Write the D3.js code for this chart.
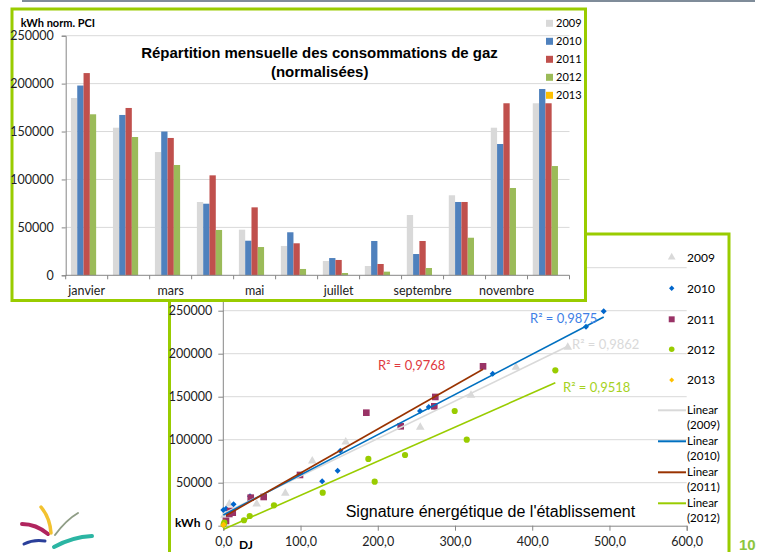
<!DOCTYPE html>
<html><head><meta charset="utf-8">
<script src="https://cdn.jsdelivr.net/npm/d3@7"></script>
<style>body{margin:0;background:#fff}svg{display:block}</style>
</head><body>
<svg id="c" width="760" height="552"></svg>
<script>
// ---------- DATA ----------
const months = ["janvier","février","mars","avril","mai","juin","juillet","août","septembre","octobre","novembre","décembre"];
const years = ["2009","2010","2011","2012","2013"];
const gaz2009 = [185000,154000,128600,76500,47600,30600,14900,9700,62900,83500,154000,179500];
const gaz2010 = [198000,167300,150000,74700,36100,44900,18000,35800,22200,76500,137000,194400];
const gaz2011 = [211000,174600,143300,104300,70900,33400,16000,11800,35800,76500,179500,179500];
const gaz2012 = [168000,144300,115100,47300,29500,6600,2400,3800,7600,39200,91100,114000];
const gaz2013 = [0,0,0,0,0,0,0,0,0,0,0,0];
const barTicks = [0,50000,100000,150000,200000,250000];

const dj2009 = [1.5,4,7.8,43.2,80.3,115.2,158.5,255,320.7,379,446];
const kwh2009 = [12000,15000,25200,25200,37700,75200,97300,114400,151600,184200,207500];
const dj2010 = [0,3.5,13.3,34.6,128,148,151.5,254.7,266,348.8,469.6,492.5];
const kwh2010 = [18300,19800,24900,34200,51600,64000,87200,133400,138000,176700,231400,249300];
const dj2011 = [3.5,7.8,9,12.2,35.5,52.3,99.3,185.2,229.7,274.5,273.2,336.3];
const kwh2011 = [5500,13600,17100,15100,32600,33400,59000,131400,115600,149700,138800,185300];
const dj2012 = [0.5,1.3,26.8,34.2,65.6,128.7,187.8,196,235.3,299.6,315.2,429.9];
const kwh2012 = [1500,3500,6300,11300,23700,38400,77600,51200,82200,133400,100000,180700];
const dj2013 = [0,0.5];
const kwh2013 = [500,1500];
const scatterYTicks = [0,50000,100000,150000,200000,250000];
const scatterGrid = [50000,100000,150000,200000,250000,300000];
const scatterXTicks = [0,100,200,300,400,500,600];
const r2Labels = ["R² = 0,9862","R² = 0,9875","R² = 0,9768","R² = 0,9518"];

// ---------- STYLE ----------
const GREEN = "#99cc00";
const barColors = {"2009":"#d9d9d9","2010":"#4f81bd","2011":"#c0504d","2012":"#9bbb59","2013":"#ffc000"};
const scatColors = {"2009":"#d9d9d9","2010":"#0066cc","2011":"#993366","2012":"#99cc00","2013":"#ffc000"};
const trendColors = {"2009":"#d9d9d9","2010":"#0070c0","2011":"#993300","2012":"#99cc00"};
const CAL = "Lato, 'Open Sans', sans-serif";
const ARI = "'Liberation Sans', Arial, sans-serif";

const svg = d3.select("#c");

// top slide line
svg.append("line").attr("x1",22).attr("x2",755).attr("y1",1).attr("y2",1)
  .attr("stroke","#7f8c99").attr("stroke-width",2);

// ================= SCATTER CHART =================
const sc = svg.append("g");
sc.append("rect").attr("x",169.5).attr("y",234).attr("width",559.5).attr("height",400)
  .attr("fill","#fff").attr("stroke",GREEN).attr("stroke-width",3);

const sx = d3.scaleLinear().domain([0,600]).range([223.3,686.7]);
const sy = d3.scaleLinear().domain([0,300000]).range([525.7,267.7]);

sc.append("g").selectAll("line").data(scatterGrid).join("line")
  .attr("x1",sx(0)).attr("x2",sx(600)).attr("y1",d=>sy(d)).attr("y2",d=>sy(d))
  .attr("stroke","#d9d9d9").attr("stroke-width",1);

const yAx = sc.append("g").attr("transform",`translate(${sx(0)},0)`)
  .call(d3.axisLeft(sy).tickValues(scatterYTicks).tickSize(5).tickPadding(6).tickFormat(d3.format("d")));
const xAx = sc.append("g").attr("transform",`translate(0,${sy(0)})`)
  .call(d3.axisBottom(sx).tickValues(scatterXTicks).tickSize(5).tickPadding(6)
    .tickFormat(d=>d3.format(".1f")(d).replace(".",",")));
[yAx,xAx].forEach(a=>{
  a.select(".domain").attr("stroke","#868686");
  a.selectAll(".tick line").attr("stroke","#868686");
  a.selectAll("text").attr("font-family",CAL).attr("font-size",12.5).attr("fill","#222");
});
yAx.select(".domain").attr("d",`M-0,${sy(0)}V${sy(300000)}`);

const series = [
  {y:"2009", xs:dj2009, ys:kwh2009, sym:d3.symbolTriangle, size:32, rot:0},
  {y:"2010", xs:dj2010, ys:kwh2010, sym:d3.symbolSquare, size:18, rot:45},
  {y:"2011", xs:dj2011, ys:kwh2011, sym:d3.symbolSquare, size:44, rot:0},
  {y:"2012", xs:dj2012, ys:kwh2012, sym:d3.symbolCircle, size:30, rot:0},
  {y:"2013", xs:dj2013, ys:kwh2013, sym:d3.symbolSquare, size:16, rot:45}
];

function regress(xs,ys){
  const n=xs.length, mx=d3.mean(xs), my=d3.mean(ys);
  let sxy=0,sxx=0; for(let i=0;i<n;i++){sxy+=(xs[i]-mx)*(ys[i]-my);sxx+=(xs[i]-mx)**2;}
  const b=sxy/sxx; return {a:my-b*mx,b};
}

// points
series.forEach(s=>{
  const pts = s.xs.map((x,i)=>[x,s.ys[i]]);
  sc.append("g").selectAll("path").data(pts).join("path")
    .attr("d",d3.symbol().type(s.sym).size(s.size))
    .attr("transform",d=>`translate(${sx(d[0])},${sy(d[1])}) rotate(${s.rot})`)
    .attr("fill",scatColors[s.y]);
});
// trendlines
series.filter(s=>trendColors[s.y]).forEach(s=>{
  const r = regress(s.xs,s.ys);
  const x0=d3.min(s.xs), x1=d3.max(s.xs);
  sc.append("line").attr("x1",sx(x0)).attr("x2",sx(x1))
    .attr("y1",sy(r.a+r.b*x0)).attr("y2",sy(r.a+r.b*x1))
    .attr("stroke",trendColors[s.y]).attr("stroke-width",1.6);
});

// R² labels
const r2Pos = [[572,344,"#d9d9d9"],[530,318,"#3f7fe6"],[378,365,"#e0393e"],[563,387,"#a6d21e"]];
r2Labels.forEach((t,i)=>{
  sc.append("text").attr("x",r2Pos[i][0]).attr("y",r2Pos[i][1]).attr("dy","0.35em")
    .attr("font-family",CAL).attr("font-size",13).attr("fill",r2Pos[i][2]).text(t);
});

sc.append("text").attr("x",345.7).attr("y",517).attr("font-family",ARI).attr("font-size",16)
  .attr("fill","#000").text("Signature énergétique de l'établissement");
sc.append("text").attr("x",175).attr("y",527).attr("font-family",CAL).attr("font-weight","bold")
  .attr("font-size",12).attr("fill","#000").text("kWh");
sc.append("text").attr("x",239).attr("y",549).attr("font-family",CAL).attr("font-weight","bold")
  .attr("font-size",12).attr("fill","#000").text("DJ");

// scatter legend
const legY = [257.3,288.3,319.3,349.3,380];
series.forEach((s,i)=>{
  sc.append("path").attr("d",d3.symbol().type(s.sym).size(s.size*0.8))
    .attr("transform",`translate(671.7,${legY[i]}) rotate(${s.rot})`).attr("fill",scatColors[s.y]);
  sc.append("text").attr("x",687).attr("y",legY[i]).attr("dy","0.35em")
    .attr("font-family",CAL).attr("font-size",12).attr("fill","#000").text(s.y);
});
const trendYears = ["2009","2010","2011","2012"];
const legY2 = [410.3,441.3,472.3,503.3];
trendYears.forEach((y,i)=>{
  sc.append("line").attr("x1",658).attr("x2",686).attr("y1",legY2[i]).attr("y2",legY2[i])
    .attr("stroke",trendColors[y]).attr("stroke-width",2);
  const t = sc.append("text").attr("x",687).attr("y",legY2[i]).attr("dy","0.35em")
    .attr("font-family",CAL).attr("font-size",11.5).attr("fill","#000");
  t.append("tspan").attr("x",687).text("Linear");
  t.append("tspan").attr("x",687).attr("dy",14.2).text(`(${y})`);
});

// ================= BAR CHART =================
const bc = svg.append("g");
bc.append("rect").attr("x",12).attr("y",9).attr("width",573.5).attr("height",291.5)
  .attr("fill","#fff").attr("stroke",GREEN).attr("stroke-width",3);

const bx0 = d3.scaleBand().domain(months).range([65.7,569.5]).padding(0);
const bx1 = d3.scaleBand().domain(years).range([0,bx0.bandwidth()]).paddingInner(0).paddingOuter(0.833);
const by = d3.scaleLinear().domain([0,250000]).range([275.3,35.7]);
const barData = {"2009":gaz2009,"2010":gaz2010,"2011":gaz2011,"2012":gaz2012,"2013":gaz2013};

bc.append("g").selectAll("line").data(barTicks.slice(1)).join("line")
  .attr("x1",bx0.range()[0]).attr("x2",bx0.range()[1]).attr("y1",d=>by(d)).attr("y2",d=>by(d))
  .attr("stroke","#d9d9d9");

years.forEach(y=>{
  bc.append("g").selectAll("rect").data(barData[y].map((v,i)=>({m:months[i],v})).filter(d=>d.v>0)).join("rect")
    .attr("x",d=>bx0(d.m)+bx1(y)).attr("width",bx1.bandwidth())
    .attr("y",d=>by(d.v)).attr("height",d=>by(0)-by(d.v)).attr("fill",barColors[y]);
});

const byAx = bc.append("g").attr("transform",`translate(${bx0.range()[0]},0)`)
  .call(d3.axisLeft(by).tickValues(barTicks).tickSize(4).tickPadding(8).tickFormat(d3.format("d")));
const bxAx = bc.append("g").attr("transform",`translate(0,${by(0)})`)
  .call(d3.axisBottom(bx0).tickSize(0).tickPadding(11).tickFormat((d,i)=>i%2===0?d:""));
[byAx,bxAx].forEach(a=>{
  a.select(".domain").attr("stroke","#868686");
  a.selectAll(".tick line").attr("stroke","#868686");
  a.selectAll("text").attr("font-family",CAL).attr("font-size",12.5).attr("fill","#222");
});
bxAx.select(".domain").attr("d",`M${bx0.range()[0]},0H${bx0.range()[1]}`);
bc.append("g").selectAll("line").data(months.concat(["_end"])).join("line")
  .attr("x1",d=>d==="_end"?bx0.range()[1]:bx0(d)).attr("x2",d=>d==="_end"?bx0.range()[1]:bx0(d))
  .attr("y1",by(0)).attr("y2",by(0)+4).attr("stroke","#868686");

bc.append("text").attr("x",20.7).attr("y",27).attr("font-family",CAL).attr("font-weight","bold")
  .attr("font-size",11).attr("fill","#000").text("kWh norm. PCI");
bc.append("text").attr("x",319.5).attr("y",57.5).attr("text-anchor","middle").attr("font-family",ARI)
  .attr("font-weight","bold").attr("font-size",15).attr("fill","#000").text("Répartition mensuelle des consommations de gaz");
bc.append("text").attr("x",319.7).attr("y",76.5).attr("text-anchor","middle").attr("font-family",ARI)
  .attr("font-weight","bold").attr("font-size",15).attr("fill","#000").text("(normalisées)");

years.forEach((y,i)=>{
  const cy = 23.3 + i*18;
  bc.append("rect").attr("x",546).attr("y",cy-3.5).attr("width",7).attr("height",7).attr("fill",barColors[y]);
  bc.append("text").attr("x",556).attr("y",cy).attr("dy","0.35em").attr("font-family",CAL)
    .attr("font-size",11).attr("fill","#000").text(y);
});

// ================= LOGO & PAGE NUMBER =================
const logo = svg.append("g").attr("fill","none").attr("stroke-linecap","round");
logo.append("path").attr("d","M22,524 Q36,524 48,534").attr("stroke","#b0245e").attr("stroke-width",4);
logo.append("path").attr("d","M41,507 Q50,518 51,533").attr("stroke","#f2c230").attr("stroke-width",3.5);
logo.append("path").attr("d","M55,535 Q66,520 78,513").attr("stroke","#8f9d86").attr("stroke-width",2);
logo.append("path").attr("d","M54,547 Q72,537 92,536").attr("stroke","#2bb5a3").attr("stroke-width",4);
logo.append("path").attr("d","M24,544 Q34,539 45,541").attr("stroke","#2a3f9a").attr("stroke-width",3);

svg.append("text").attr("x",739).attr("y",550).attr("font-family",ARI).attr("font-weight","bold")
  .attr("font-size",15).attr("fill","#8cc63f").text("10");
</script>
</body></html>
